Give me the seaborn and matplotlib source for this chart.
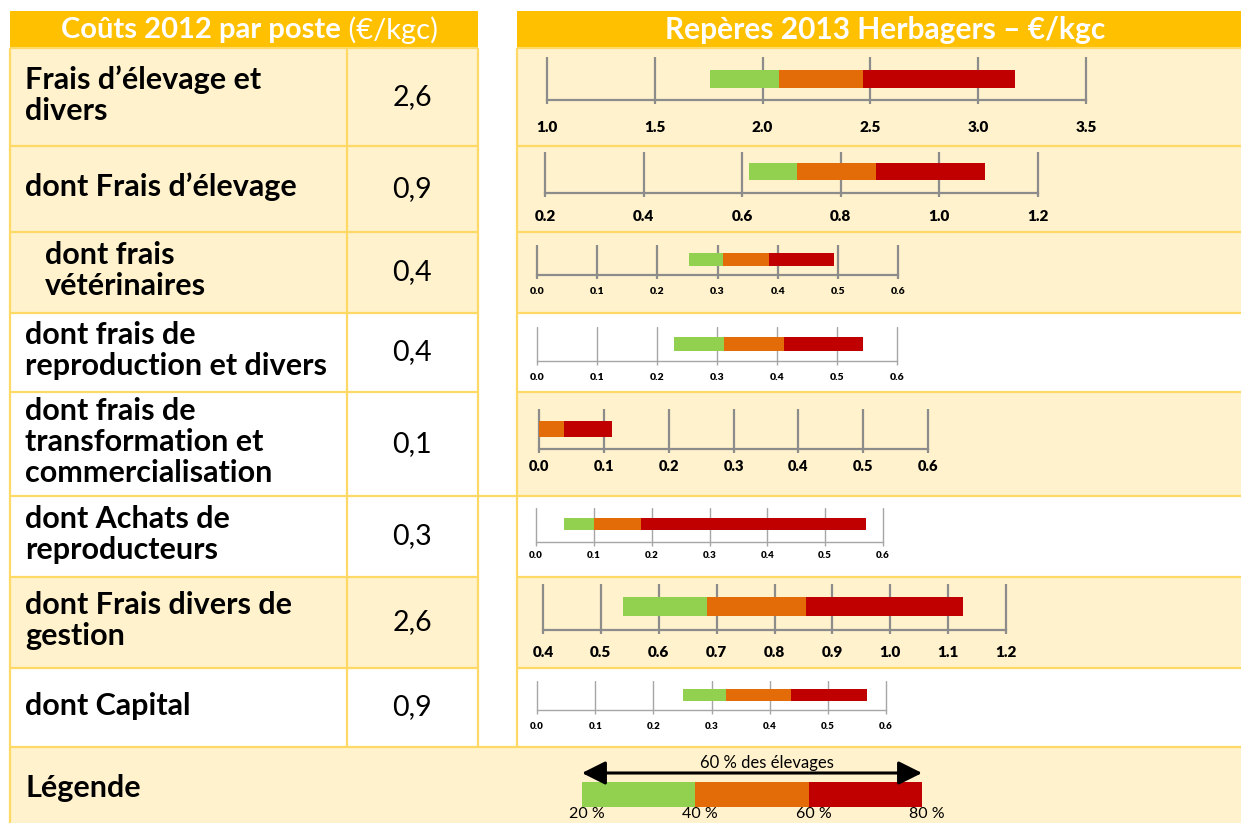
import numpy as np
import pandas as pd
import matplotlib
matplotlib.use("Agg")
import matplotlib.pyplot as plt
import seaborn as sns
from matplotlib.patches import Rectangle
from matplotlib.transforms import ScaledTranslation

sns.set_theme(style="white")
plt.rcParams["font.family"] = ["Lato", "DejaVu Sans"]

# ---------------- data ----------------
postes = [
    "Frais d’élevage et\ndivers",
    "dont Frais d’élevage",
    "dont frais\nvétérinaires",
    "dont frais de\nreproduction et divers",
    "dont frais de\ntransformation et\ncommercialisation",
    "dont Achats de\nreproducteurs",
    "dont Frais divers de\ngestion",
    "dont Capital",
]
couts_2012 = ["2,6", "0,9", "0,4", "0,4", "0,1", "0,3", "2,6", "0,9"]
q20 = [1.755, 0.613, 0.252, 0.229, 0.0, 0.049, 0.539, 0.251]
q40 = [2.075, 0.711, 0.309, 0.311, 0.0, 0.100, 0.684, 0.325]
q60 = [2.465, 0.871, 0.385, 0.411, 0.0385, 0.182, 0.854, 0.436]
q80 = [3.171, 1.092, 0.494, 0.544, 0.1125, 0.571, 1.125, 0.567]
axis_min = [1.0, 0.2, 0.0, 0.0, 0.0, 0.0, 0.4, 0.0]
axis_max = [3.5, 1.2, 0.6, 0.6, 0.6, 0.6, 1.2, 0.6]
axis_step = [0.5, 0.2, 0.1, 0.1, 0.1, 0.1, 0.1, 0.1]
segments = ["20-40 %", "40-60 %", "60-80 %"]
legend_pcts = [20, 40, 60, 80]
legend_labels = ["20 %", "40 %", "60 %", "80 %"]
header_left_bold = "Coûts 2012 par poste"
header_left_unit = " (€/kgc)"
header_right = "Repères 2013 Herbagers – €/kgc"
legend_title = "Légende"
legend_arrow_text = "60 % des élevages"

# ---------------- style / layout ----------------
GREEN, ORANGE, RED = "#92D050", "#E36C09", "#C00000"
seg_colors = dict(zip(segments, [GREEN, ORANGE, RED]))
CREAM, WHITE, GOLD, BORDER = "#FFF2CC", "#FFFFFF", "#FFC000", "#FFD966"
W, H = 1241, 823

row_edges = [48, 146, 232, 313, 392, 496, 577, 668, 747, 823]
left_fill = [CREAM, CREAM, CREAM, WHITE, WHITE, WHITE, CREAM, WHITE]
right_fill = [CREAM, CREAM, CREAM, WHITE, CREAM, WHITE, CREAM, WHITE]
text_x = [25, 25, 45, 25, 25, 25, 25, 25]
# x0, x1, tick_top, axis_y, bar_top, bar_bot, label_y, fontsize, heavy
chart_layout = [
    (547, 1086, 57, 100, 70, 88, 130, 11, True),
    (545, 1038, 152, 193, 163, 180, 219, 11, True),
    (537, 898, 245, 275, 253, 266, 293, 7.5, True),
    (537, 897, 327, 361, 337, 351, 379, 7.5, False),
    (539, 928, 409, 449, 421, 437, 469, 10.5, True),
    (536, 883, 508, 542, 518, 530, 557, 7, False),
    (543, 1006, 584, 630, 597, 616, 655, 11, True),
    (537, 886, 681, 710, 689, 701, 728, 7, False),
]

fig = plt.figure(figsize=(W / 100, H / 100), dpi=100)
fig.patch.set_facecolor("white")
bg = fig.add_axes([0, 0, 1, 1])
bg.set_xlim(0, W)
bg.set_ylim(H, 0)
bg.axis("off")

# headers
bg.add_patch(Rectangle((10, 11), 468, 37, color=GOLD, lw=0))
bg.add_patch(Rectangle((517, 11), W - 517, 37, color=GOLD, lw=0))
bg.text(341, 30, header_left_bold, ha="right", va="center", color="white",
        fontsize=21, fontweight="bold")
bg.text(341, 30, header_left_unit, ha="left", va="center", color="white",
        fontsize=21)
bg.text(885, 30, header_right, ha="center", va="center", color="white",
        fontsize=21.5, fontweight="bold")

# cells
for i in range(8):
    y0, y1 = row_edges[i], row_edges[i + 1]
    bg.add_patch(Rectangle((10, y0), 468, y1 - y0, color=left_fill[i], lw=0))
    bg.add_patch(Rectangle((517, y0), W - 517, y1 - y0, color=right_fill[i], lw=0))
bg.add_patch(Rectangle((10, 747), W - 10, H - 747, color=CREAM, lw=0))

# borders
blw = 1.6
for y in row_edges[:-1]:
    bg.hlines(y, 10, 478, color=BORDER, lw=blw)
    bg.hlines(y, 517, W, color=BORDER, lw=blw)
bg.hlines([496, 747], 478, 517, color=BORDER, lw=blw)
bg.vlines(10, 48, H, color=BORDER, lw=blw)
bg.vlines([347, 478, 517], 48, 747, color=BORDER, lw=blw)

# texts
for i in range(8):
    yc = (row_edges[i] + row_edges[i + 1]) / 2
    bg.text(text_x[i], yc - 2, postes[i], ha="left", va="center",
            fontsize=22, fontweight="bold", color="black", linespacing=1.14)
    bg.text(412, yc, couts_2012[i], ha="center", va="center",
            fontsize=20.5, color="black")
bg.text(25, 788, legend_title, ha="left", va="center", fontsize=22,
        fontweight="bold", color="black")


def px_axes(x0, x1, ytop, ybot):
    return fig.add_axes([x0 / W, 1 - ybot / H, (x1 - x0) / W, (ybot - ytop) / H])


def draw_bar(ax, edges, height):
    edges = [float(e) for e in edges]
    widths = np.diff(edges)
    mids = [(a + b) / 2 for a, b in zip(edges[:-1], edges[1:])]
    df = pd.DataFrame({"mid": mids, "h": [float(height)] * 3, "seg": segments})
    df = df[widths > 0]
    bins = [float(b) for b in np.unique(edges)]
    order = [s for s in segments if s in set(df["seg"])]
    sns.histplot(data=df, x="mid", weights="h", bins=bins, hue="seg",
                 hue_order=order, palette=seg_colors, multiple="layer",
                 alpha=1, linewidth=0, legend=False, ax=ax, zorder=3)
    ax.set_xlabel("")
    ax.set_ylabel("")


# charts
for i in range(8):
    x0, x1, top, axy, btop, bbot, laby, fs, heavy = chart_layout[i]
    vmin, vmax, step = axis_min[i], axis_max[i], axis_step[i]
    k = (x1 - x0) / (vmax - vmin)
    pad = 4
    ax = px_axes(x0 - pad, x1 + pad, top, axy)
    ax.patch.set_alpha(0)
    h = bbot - btop
    draw_bar(ax, [q20[i], q40[i], q60[i], q80[i]], h)
    ax.set_xlim(vmin - pad / k, vmax + pad / k)
    ax.set_ylim(-(axy - bbot), bbot - top)
    gc = "#8C8C8C" if heavy else "#A6A6A6"
    lw = 1.6 if heavy else 1.0
    ax.set_axisbelow(True)
    ax.grid(True, axis="x", color=gc, linewidth=lw)
    ax.grid(False, axis="y")
    for s in ["top", "left", "right"]:
        ax.spines[s].set_visible(False)
    ax.spines["bottom"].set_visible(True)
    ax.spines["bottom"].set_color(gc)
    ax.spines["bottom"].set_linewidth(lw)
    ax.spines["bottom"].set_bounds(vmin, vmax)
    ticks = np.round(np.arange(vmin, vmax + step / 2, step), 2)
    ax.set_xticks(ticks)
    ax.set_xticklabels([f"{t:.1f}" for t in ticks], fontsize=fs, fontweight="heavy")
    ax.set_yticks([])
    ticklen_px = 4
    fs_px = fs * 100 / 72
    pad_pt = max(0, (laby - axy - ticklen_px - 0.62 * fs_px)) * 72 / 100
    ax.tick_params(axis="x", bottom=True, length=ticklen_px * 0.72, width=lw,
                   color=gc, direction="out", pad=pad_pt, labelcolor="black")

# legend bar
lx0, lx1, ly0, ly1 = 582, 922, 782, 807
axl = px_axes(lx0, lx1, ly0, ly1)
axl.patch.set_alpha(0)
draw_bar(axl, legend_pcts, ly1 - ly0)
axl.set_xlim(legend_pcts[0], legend_pcts[-1])
axl.set_ylim(0, ly1 - ly0)
for s in axl.spines.values():
    s.set_visible(False)
axl.set_yticks([])
axl.set_xticks(legend_pcts)
axl.set_xticklabels(legend_labels, fontsize=11.5)
axl.tick_params(axis="x", bottom=False, length=0, pad=0, labelcolor="black")
for lab in axl.get_xticklabels():
    lab.set_transform(lab.get_transform() + ScaledTranslation(5 / 100, 0, fig.dpi_scale_trans))
axl.annotate("", xy=(legend_pcts[-1], 1.36), xytext=(legend_pcts[0], 1.36),
             xycoords=("data", "axes fraction"), textcoords=("data", "axes fraction"),
             arrowprops=dict(arrowstyle="<|-|>,head_length=0.8,head_width=0.4",
                             color="black", lw=2.2, mutation_scale=18,
                             shrinkA=0, shrinkB=0),
             annotation_clip=False)
bg.text(767, 763, legend_arrow_text, ha="center", va="center", fontsize=12,
        color="black")

fig.savefig("out.png", dpi=100)
